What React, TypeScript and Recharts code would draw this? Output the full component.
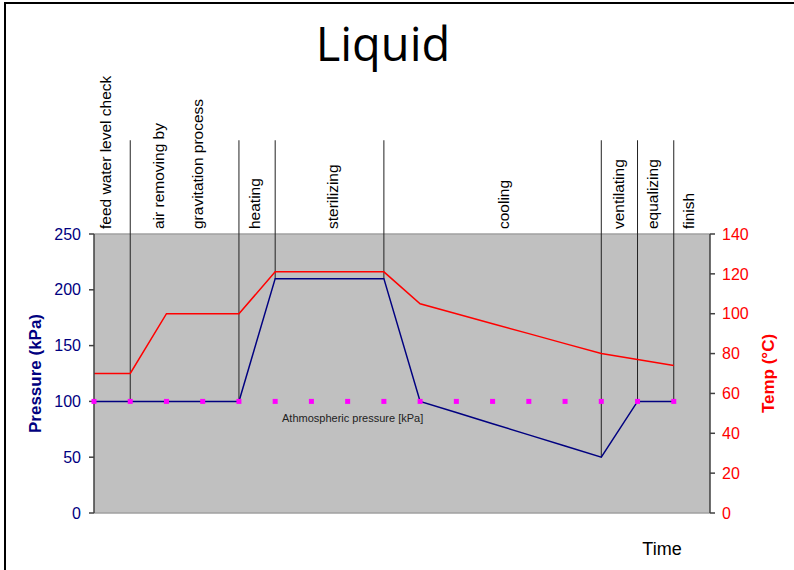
import React from "react";
import {
  ComposedChart,
  Line,
  XAxis,
  YAxis,
  CartesianGrid,
  ReferenceLine,
} from "recharts";

// time steps (x positions of the process points)
const STEPS = [0, 1, 2, 3, 4, 5, 6, 7, 8, 9, 10, 11, 12, 13, 14, 15, 16];
const PRESSURE = [100, 100, 100, 100, 100, 210, 210, 210, 210, 100, 90, 80, 70, 60, 50, 100, 100];
const TEMP = [70, 70, 100, 100, 100, 121, 121, 121, 121, 105, 100, 95, 90, 85, 80, 77, 74];
const ATMOSPHERIC = [100, 100, 100, 100, 100, 100, 100, 100, 100, 100, 100, 100, 100, 100, 100, 100, 100];

const PRESSURE_TICKS = [0, 50, 100, 150, 200, 250];
const TEMP_TICKS = [0, 20, 40, 60, 80, 100, 120, 140];

// phase names above the plot and where they sit on the step axis
const PHASES = [
  "feed water level check",
  "air removing by",
  "gravitation process",
  "heating",
  "sterilizing",
  "cooling",
  "ventilating",
  "equalizing",
  "finish",
];
const PHASE_POS = [0.47, 1.93, 3.01, 4.58, 6.73, 11.45, 14.63, 15.57, 16.56];

// steps where a phase divider drops down to the pressure curve
const DIVIDER_STEPS = [1, 4, 5, 8, 14, 15, 16];
const DIVIDER_TOP = 334; // in kPa units, above the axis max
const ATM_LABEL_STEP = 7;

const FONT = "'Liberation Sans', Arial, sans-serif";
const NAVY = "#000080";
const RED = "#ff0000";
const AXIS = "#404040";

const data = STEPS.map((s, i) => ({
  step: s,
  pressure: PRESSURE[i],
  temp: TEMP[i],
  atm: ATMOSPHERIC[i],
}));

const atmDot = (props: any) => {
  const { cx, cy, index } = props;
  if (cx == null || cy == null) return null;
  return (
    <g key={`atm-${index}`}>
      <rect x={cx - 2.5} y={cy - 2.5} width={5} height={5} fill="#ff00ff" />
      {index === ATM_LABEL_STEP && (
        <text x={cx + 5} y={cy + 21} textAnchor="middle" fontSize={11} fill="#222" fontFamily={FONT}>
          Athmospheric pressure [kPa]
        </text>
      )}
    </g>
  );
};

const phaseLabel = (name: string) => (props: any) => {
  const vb = props.viewBox || {};
  const x = vb.x ?? 0;
  const y = (vb.y ?? 0) - 5;
  return (
    <text
      x={x}
      y={y}
      transform={`rotate(-90 ${x} ${y})`}
      textAnchor="start"
      fontSize={15.5}
      fill="#000"
      fontFamily={FONT}
    >
      {name}
    </text>
  );
};

export default function App() {
  return (
    <div style={{ position: "absolute", left: 0, top: 0, width: 794, height: 570, overflow: "hidden", background: "#fff" }}>
      <div
        style={{
          position: "absolute",
          left: 4,
          top: 2,
          width: 790,
          height: 568,
          borderLeft: "2px solid #000",
          borderTop: "2px solid #000",
          boxSizing: "border-box",
        }}
      />
      <div
        style={{
          position: "absolute",
          left: 283,
          top: 20,
          width: 200,
          textAlign: "center",
          fontFamily: "'Open Sans', sans-serif",
          fontSize: 47,
          lineHeight: "47px",
          color: "#000",
        }}
      >
        Liquid
      </div>
      <div style={{ position: "absolute", left: 0, top: 0 }}>
        <ComposedChart
          width={794}
          height={570}
          data={data}
          margin={{ top: 234, right: 0, bottom: 0, left: 0 }}
          style={{ fontFamily: FONT }}
        >
          <CartesianGrid fill="#c0c0c0" horizontal={false} vertical={false} yAxisId="p" />
          <XAxis
            dataKey="step"
            type="number"
            domain={[0, 17]}
            ticks={[]}
            tick={false}
            tickLine={false}
            axisLine={false}
            height={57}
            label={(props: any) => {
              const vb = props.viewBox || {};
              return (
                <text
                  x={vb.x + vb.width - 48}
                  y={vb.y + 42}
                  textAnchor="middle"
                  fontSize={18}
                  fill="#000"
                  fontFamily={FONT}
                >
                  Time
                </text>
              );
            }}
          />
          <YAxis
            yAxisId="p"
            orientation="left"
            domain={[0, 250]}
            ticks={PRESSURE_TICKS}
            width={94}
            stroke={AXIS}
            strokeWidth={1.5}
            tickSize={5}
            tickMargin={8}
            tick={{ fill: NAVY, fontSize: 16, fontFamily: FONT }}
            label={(props: any) => {
              const vb = props.viewBox || {};
              const x = vb.x + 41;
              const y = vb.y + vb.height / 2;
              return (
                <text
                  x={x}
                  y={y}
                  transform={`rotate(-90 ${x} ${y})`}
                  textAnchor="middle"
                  fontSize={17}
                  fontWeight="bold"
                  fill={NAVY}
                  fontFamily={FONT}
                >
                  Pressure (kPa)
                </text>
              );
            }}
          />
          <YAxis
            yAxisId="t"
            orientation="right"
            domain={[0, 140]}
            ticks={TEMP_TICKS}
            width={84}
            stroke={AXIS}
            strokeWidth={1.5}
            tickSize={5}
            tickMargin={7}
            tick={{ fill: RED, fontSize: 16, fontFamily: FONT }}
            label={(props: any) => {
              const vb = props.viewBox || {};
              const x = vb.x + 64;
              const y = vb.y + vb.height / 2;
              return (
                <text
                  x={x}
                  y={y}
                  transform={`rotate(-90 ${x} ${y})`}
                  textAnchor="middle"
                  fontSize={17}
                  fontWeight="bold"
                  fill={RED}
                  fontFamily={FONT}
                >
                  Temp (°C)
                </text>
              );
            }}
          />

          {/* plot frame top / bottom */}
          <ReferenceLine yAxisId="p" y={250} stroke="#a0a0a0" strokeWidth={1.5} />
          <ReferenceLine yAxisId="p" y={0} stroke="#a0a0a0" strokeWidth={1.5} />

          {/* phase names */}
          {PHASES.map((name, i) => (
            <ReferenceLine
              key={name}
              yAxisId="p"
              x={PHASE_POS[i]}
              stroke="none"
              ifOverflow="visible"
              label={phaseLabel(name)}
            />
          ))}

          {/* phase dividers */}
          {DIVIDER_STEPS.map((s) => (
            <ReferenceLine
              key={`div-${s}`}
              yAxisId="p"
              ifOverflow="visible"
              segment={[
                { x: s, y: PRESSURE[s] },
                { x: s, y: DIVIDER_TOP },
              ]}
              stroke="#222"
              strokeWidth={1}
            />
          ))}

          <Line
            yAxisId="t"
            type="linear"
            dataKey="temp"
            stroke={RED}
            strokeWidth={1.5}
            dot={false}
            activeDot={false}
            isAnimationActive={false}
          />
          <Line
            yAxisId="p"
            type="linear"
            dataKey="pressure"
            stroke={NAVY}
            strokeWidth={1.5}
            dot={false}
            activeDot={false}
            isAnimationActive={false}
          />
          <Line
            yAxisId="p"
            type="linear"
            dataKey="atm"
            stroke="none"
            dot={atmDot}
            activeDot={false}
            isAnimationActive={false}
          />
        </ComposedChart>
      </div>
    </div>
  );
}
